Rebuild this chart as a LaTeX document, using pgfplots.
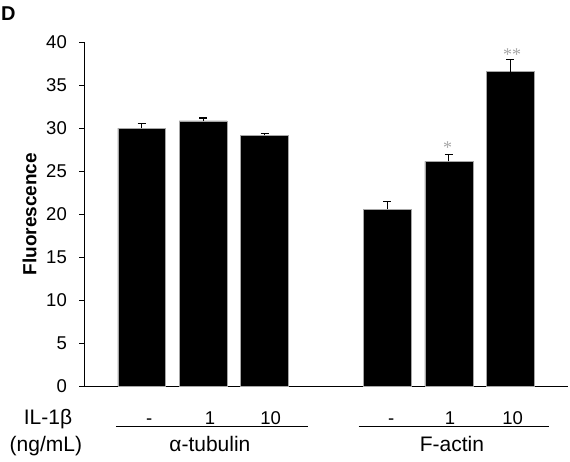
\documentclass[border=0pt]{standalone}
\usepackage{fontspec}
\setmainfont{Liberation Sans}
\newfontfamily\seriffont{Liberation Serif}
\usepackage{pgfplots}
\usepackage{pgfplotstable}
\pgfplotsset{compat=1.18}
\pgfplotstableread{
x y e
0 30.03 0.55
1 30.85 0.35
2 29.19 0.20
4 20.58 0.86
5 26.16 0.82
6 36.60 1.40
}\datatable
\begin{document}
\begin{tikzpicture}[x=1pt,y=1pt]
\useasboundingbox (0,0) rectangle (570,461);
\node[anchor=north west, inner sep=0pt, font=\fontsize{20}{24}\selectfont\bfseries] at (1,454) {D};
\begin{axis}[
  at={(84pt,75pt)}, anchor=south west,
  scale only axis, width=484pt, height=343.6pt,
  xmin=-0.94, xmax=6.94, ymin=0, ymax=40,
  clip=false,
  axis x line*=bottom, axis y line*=left,
  axis line style={line width=1pt, black},
  ytick={0,5,...,40},
  ytick align=outside, major tick length=5pt,
  ytick style={line width=1pt, black},
  xtick={0.12,1.11,2.1,4.06,5.02,6.04},
  xticklabels={-,1,10,-,1,10},
  xtick style={draw=none},
  tick label style={font=\fontsize{18.5}{22}\selectfont},
  /pgf/number format/assume math mode=true,
  yticklabel style={anchor=east, inner sep=0pt, xshift=-12pt},
  xticklabel style={anchor=base, inner sep=0pt, yshift=-38pt},
  ylabel={Fluorescence},
  every axis y label/.style={at={(axis description cs:-0.1126,0.5)}, rotate=90, anchor=center, font=\fontsize{19}{22}\selectfont\bfseries},
]
\addplot[ybar, bar width=0.78, fill=black, draw=gray!70, line width=0.5pt,
  error bars/.cd, y dir=plus, y explicit,
  error bar style={line width=1.2pt, black},
  error mark options={rotate=90, mark size=4pt, line width=1.2pt, black}]
  table[x=x, y=y, y error=e]{\datatable};
\draw[line width=1pt] (axis cs:-0.42,-4.66) -- (axis cs:2.70,-4.66);
\draw[line width=1pt] (axis cs:3.53,-4.66) -- (axis cs:6.63,-4.66);
\node[anchor=base, inner sep=0pt, font=\fontsize{21}{24}\selectfont] at (axis cs:1.11,-7.68) {α-tubulin};
\node[anchor=base, inner sep=0pt, font=\fontsize{21}{24}\selectfont] at (axis cs:5.05,-7.68) {F-actin};
\node[anchor=base, inner sep=0pt, font=\fontsize{21}{24}\selectfont] at (axis cs:-1.526,-4.5) {IL-1β};
\node[anchor=base, inner sep=0pt, font=\fontsize{21}{24}\selectfont] at (axis cs:-1.56,-7.68) {(ng/mL)};
\node[inner sep=0pt, text=gray!70, font=\seriffont\fontsize{18}{20}\selectfont] at (axis cs:4.98,27.7) {*};
\node[inner sep=0pt, text=gray!70, font=\seriffont\fontsize{18}{20}\selectfont] at (axis cs:6.03,38.6) {**};
\end{axis}
\end{tikzpicture}
\end{document}
